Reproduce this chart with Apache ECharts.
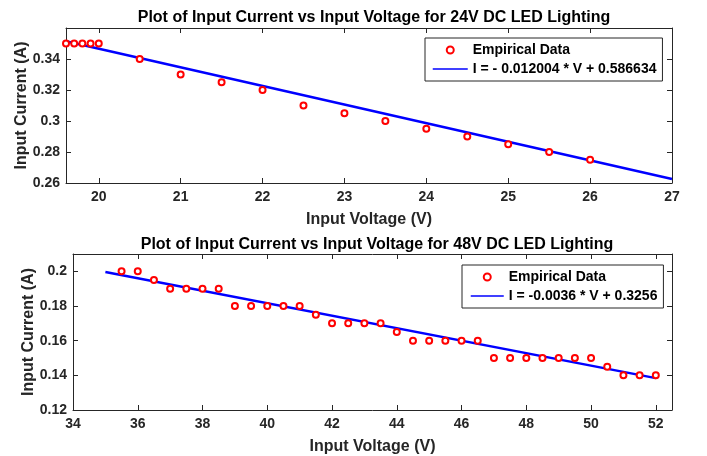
<!DOCTYPE html>
<html>
<head>
<meta charset="utf-8">
<script src="https://cdn.jsdelivr.net/npm/echarts@6/dist/echarts.min.js"></script>
<style>
html,body{margin:0;padding:0;background:#fff;}
#chart{width:707px;height:456px;}
</style>
</head>
<body>
<div id="chart"></div>
<script>
// ---- data ----
const topVoltage = [19.6, 19.7, 19.8, 19.9, 20, 20.5, 21, 21.5, 22, 22.5, 23, 23.5, 24, 24.5, 25, 25.5, 26];
const topCurrent = [0.35, 0.35, 0.35, 0.35, 0.35, 0.34, 0.33, 0.325, 0.32, 0.31, 0.305, 0.30, 0.295, 0.29, 0.285, 0.28, 0.275];
const topFitVoltage = [19.6, 27];
const topFitCurrent = [0.3514, 0.2626];
const topXTicks = [20, 21, 22, 23, 24, 25, 26, 27];
const topYTicks = [0.26, 0.28, 0.30, 0.32, 0.34];

const botVoltage = [35.5, 36, 36.5, 37, 37.5, 38, 38.5, 39, 39.5, 40, 40.5, 41, 41.5, 42, 42.5, 43, 43.5,
                    44, 44.5, 45, 45.5, 46, 46.5, 47, 47.5, 48, 48.5, 49, 49.5, 50, 50.5, 51, 51.5, 52];
const botCurrent = [0.20, 0.20, 0.195, 0.19, 0.19, 0.19, 0.19, 0.18, 0.18, 0.18, 0.18, 0.18, 0.175, 0.17, 0.17, 0.17, 0.17,
                    0.165, 0.16, 0.16, 0.16, 0.16, 0.16, 0.15, 0.15, 0.15, 0.15, 0.15, 0.15, 0.15, 0.145, 0.14, 0.14, 0.14];
const botFitVoltage = [35, 52];
const botFitCurrent = [0.1996, 0.1384];
const botXTicks = [34, 36, 38, 40, 42, 44, 46, 48, 50, 52];
const botYTicks = [0.12, 0.14, 0.16, 0.18, 0.20];

const topTitle = 'Plot of Input Current vs Input Voltage for 24V DC LED Lighting';
const botTitle = 'Plot of Input Current vs Input Voltage for 48V DC LED Lighting';
const topFitName = 'I = - 0.012004 * V + 0.586634';
const botFitName = 'I = -0.0036 * V + 0.3256';
const dataName = 'Empirical Data';
const xName = 'Input Voltage (V)';
const yName = 'Input Current (A)';

// ---- styling ----
const FONT = 'Liberation Sans, Arial, Helvetica, sans-serif';
const AX = '#262626';
const fmt = v => String(parseFloat(Number(v).toFixed(3)));

function pair(xs, ys) { return xs.map((x, i) => [x, ys[i]]); }

function mainX(gi, min, max, ticks) {
  return {
    type: 'value', gridIndex: gi, min: min, max: max, position: 'bottom',
    name: xName, nameLocation: 'middle', nameGap: 29, nameMoveOverlap: false,
    nameTextStyle: {fontFamily: FONT, fontWeight: 'bold', fontSize: 16, color: AX},
    axisLine: {show: true, onZero: false, lineStyle: {color: AX, width: 1}},
    axisTick: {show: true, inside: true, length: 5, lineStyle: {color: AX}, customValues: ticks},
    axisLabel: {show: true, margin: 7, fontFamily: FONT, fontWeight: 'bold', fontSize: 14, color: AX,
                customValues: ticks, formatter: fmt},
    splitLine: {show: false}
  };
}
function mirrorX(gi, min, max, ticks) {
  return {
    type: 'value', gridIndex: gi, min: min, max: max, position: 'top',
    axisLine: {show: true, onZero: false, lineStyle: {color: AX, width: 1}},
    axisTick: {show: true, inside: true, length: 5, lineStyle: {color: AX}, customValues: ticks},
    axisLabel: {show: false}, splitLine: {show: false}
  };
}
function mainY(gi, min, max, ticks, gap) {
  return {
    type: 'value', gridIndex: gi, min: min, max: max, position: 'left',
    name: yName, nameLocation: 'middle', nameGap: gap, nameRotate: 90, nameMoveOverlap: false,
    nameTextStyle: {fontFamily: FONT, fontWeight: 'bold', fontSize: 16, color: AX},
    axisLine: {show: true, onZero: false, lineStyle: {color: AX, width: 1}},
    axisTick: {show: true, inside: true, length: 5, lineStyle: {color: AX}, customValues: ticks},
    axisLabel: {show: true, margin: 6, fontFamily: FONT, fontWeight: 'bold', fontSize: 14, color: AX,
                customValues: ticks, formatter: fmt},
    splitLine: {show: false}
  };
}
function mirrorY(gi, min, max, ticks) {
  return {
    type: 'value', gridIndex: gi, min: min, max: max, position: 'right',
    axisLine: {show: true, onZero: false, lineStyle: {color: AX, width: 1}},
    axisTick: {show: true, inside: true, length: 5, lineStyle: {color: AX}, customValues: ticks},
    axisLabel: {show: false}, splitLine: {show: false}
  };
}

const scatterStyle = {
  type: 'scatter', name: dataName, symbol: 'circle', symbolSize: 6,
  itemStyle: {color: '#ffffff', borderColor: '#ff0000', borderWidth: 2, opacity: 1},
  z: 3
};
const lineStyleBase = {
  type: 'line', showSymbol: false, symbol: 'none', clip: true,
  lineStyle: {color: '#0000ff', width: 2.5}, itemStyle: {color: '#0000ff'}, z: 2
};

function legendFor(left, top, fitName, itemW, pad) {
  return {
    orient: 'vertical', left: left, top: top,
    data: [{name: dataName}, {name: fitName, itemStyle: {opacity: 0}}],
    itemWidth: itemW, itemHeight: 7, itemGap: 5,
    padding: pad,
    backgroundColor: '#ffffff', borderColor: AX, borderWidth: 1, borderRadius: 0,
    textStyle: {fontFamily: FONT, fontWeight: 'bold', fontSize: 14, color: '#000'},
    lineStyle: {width: 1.5},
    selectedMode: false
  };
}

const option = {
  animation: false,
  backgroundColor: '#ffffff',
  title: [
    {text: topTitle, left: 369, top: 5, textAlign: 'center',
     textStyle: {fontFamily: FONT, fontWeight: 'bold', fontSize: 16, color: '#000'}},
    {text: botTitle, left: 372, top: 232, textAlign: 'center',
     textStyle: {fontFamily: FONT, fontWeight: 'bold', fontSize: 16, color: '#000'}}
  ],
  grid: [
    {left: 66, top: 28, width: 606, height: 155, containLabel: false, outerBoundsMode: 'none'},
    {left: 73, top: 254, width: 599, height: 156, containLabel: false, outerBoundsMode: 'none'}
  ],
  legend: [
    legendFor(425, 38, topFitName, 35, [5, 6, 5, 7]),
    legendFor(462, 265, botFitName, 33, [5, 6, 5, 8])
  ],
  xAxis: [
    mainX(0, 19.6, 27, topXTicks), mirrorX(0, 19.6, 27, topXTicks),
    mainX(1, 34, 52.5, botXTicks), mirrorX(1, 34, 52.5, botXTicks)
  ],
  yAxis: [
    mainY(0, 0.26, 0.36, topYTicks, 36), mirrorY(0, 0.26, 0.36, topYTicks),
    mainY(1, 0.12, 0.21, botYTicks, 36), mirrorY(1, 0.12, 0.21, botYTicks)
  ],
  series: [
    Object.assign({}, scatterStyle, {xAxisIndex: 0, yAxisIndex: 0, data: pair(topVoltage, topCurrent)}),
    Object.assign({}, lineStyleBase, {name: topFitName, xAxisIndex: 0, yAxisIndex: 0, data: pair(topFitVoltage, topFitCurrent)}),
    Object.assign({}, scatterStyle, {xAxisIndex: 2, yAxisIndex: 2, data: pair(botVoltage, botCurrent)}),
    Object.assign({}, lineStyleBase, {name: botFitName, xAxisIndex: 2, yAxisIndex: 2, data: pair(botFitVoltage, botFitCurrent)})
  ]
};

const chart = echarts.init(document.getElementById('chart'), null, {renderer: 'canvas'});
chart.setOption(option);
</script>
</body>
</html>
